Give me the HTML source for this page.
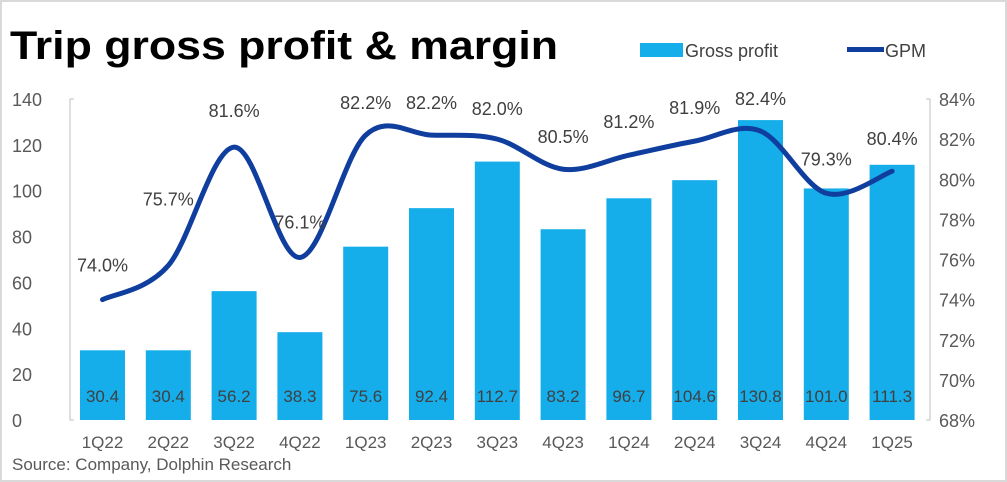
<!DOCTYPE html><html><head><meta charset="utf-8"><style>
body{margin:0;background:#fff;}
#c{position:relative;width:1007px;height:482px;overflow:hidden;background:#fff;box-sizing:border-box;border:2px solid #d9d9d9;}
svg{position:absolute;left:0;top:0;}
text{font-family:"Liberation Sans",sans-serif;}
</style></head><body><div id="c">
<svg id="s" width="1007" height="482" xmlns="http://www.w3.org/2000/svg">
<text x="8" y="57" font-size="40" font-weight="bold" fill="#000" textLength="548" lengthAdjust="spacingAndGlyphs">Trip gross profit &amp; margin</text>
<rect x="638" y="41" width="43" height="14" fill="#15aeea"/>
<text x="683" y="55" font-size="18" fill="#404040">Gross profit</text>
<rect x="845" y="45" width="37" height="5" fill="#0f3e9e"/>
<text x="883" y="55" font-size="18" fill="#404040">GPM</text>
<text x="10" y="468" font-size="17" fill="#595959">Source: Company, Dolphin Research</text>
<g id="g"></g>
</svg></div>
<script>
var v=[30.4,30.4,56.2,38.3,75.6,92.4,112.7,83.2,96.7,104.6,130.8,101.0,111.3];
var p=[74.0,75.7,81.6,76.1,82.2,82.2,82.0,80.5,81.2,81.9,82.4,79.3,80.4];
var lab=["1Q22","2Q22","3Q22","4Q22","1Q23","2Q23","3Q23","4Q23","1Q24","2Q24","3Q24","4Q24","1Q25"];
var dy=[-28,-60,-30,-29,-26,-26,-24,-26,-27,-27,-26,-28,-26];
var h='';
function Y(val){return 418-val*321/140;}
function P(pc){return 97+(84-pc)*321/16;}
h+='<path d="M72,97 H68 V418 H72 M924,97 H928 V418 H924" stroke="#bfbfbf" fill="none"/>';
for(var i=0;i<=7;i++){var y=418-i*321/7;h+='<text x="10" y="'+(y+7)+'" font-size="18" fill="#595959">'+(i*20)+'</text>';}
for(var i=0;i<=8;i++){var y=418-i*321/8;h+='<text x="937" y="'+(y+7)+'" font-size="18" fill="#595959">'+(68+2*i)+'%</text>';}
var pts=[];
for(var i=0;i<13;i++){var cx=100.5+65.8*i;var y=Y(v[i]);
h+='<rect x="'+(cx-22.5)+'" y="'+y+'" width="45" height="'+(418-y)+'" fill="#15aeea"/>';
h+='<text x="'+cx+'" y="400" font-size="17" fill="#404040" text-anchor="middle">'+v[i].toFixed(1)+'</text>';
h+='<text x="'+cx+'" y="446" font-size="17" fill="#595959" text-anchor="middle">'+lab[i]+'</text>';
pts.push([cx,P(p[i])]);}
var d='M'+pts[0][0]+','+pts[0][1];
for(var i=0;i<12;i++){var p0=pts[Math.max(0,i-1)],p1=pts[i],p2=pts[i+1],p3=pts[Math.min(12,i+2)];
var c1=[p1[0]+(p2[0]-p0[0])/6,p1[1]+(p2[1]-p0[1])/6],c2=[p2[0]-(p3[0]-p1[0])/6,p2[1]-(p3[1]-p1[1])/6];
d+=' C'+c1+' '+c2+' '+p2;}
h+='<path d="'+d+'" stroke="#0f3e9e" stroke-width="5" fill="none" stroke-linecap="round"/>';
for(var i=0;i<13;i++){h+='<text x="'+pts[i][0]+'" y="'+(pts[i][1]+dy[i])+'" font-size="18" fill="#404040" text-anchor="middle">'+p[i].toFixed(1)+'%</text>';}
document.getElementById('g').innerHTML=h;
</script></body></html>
